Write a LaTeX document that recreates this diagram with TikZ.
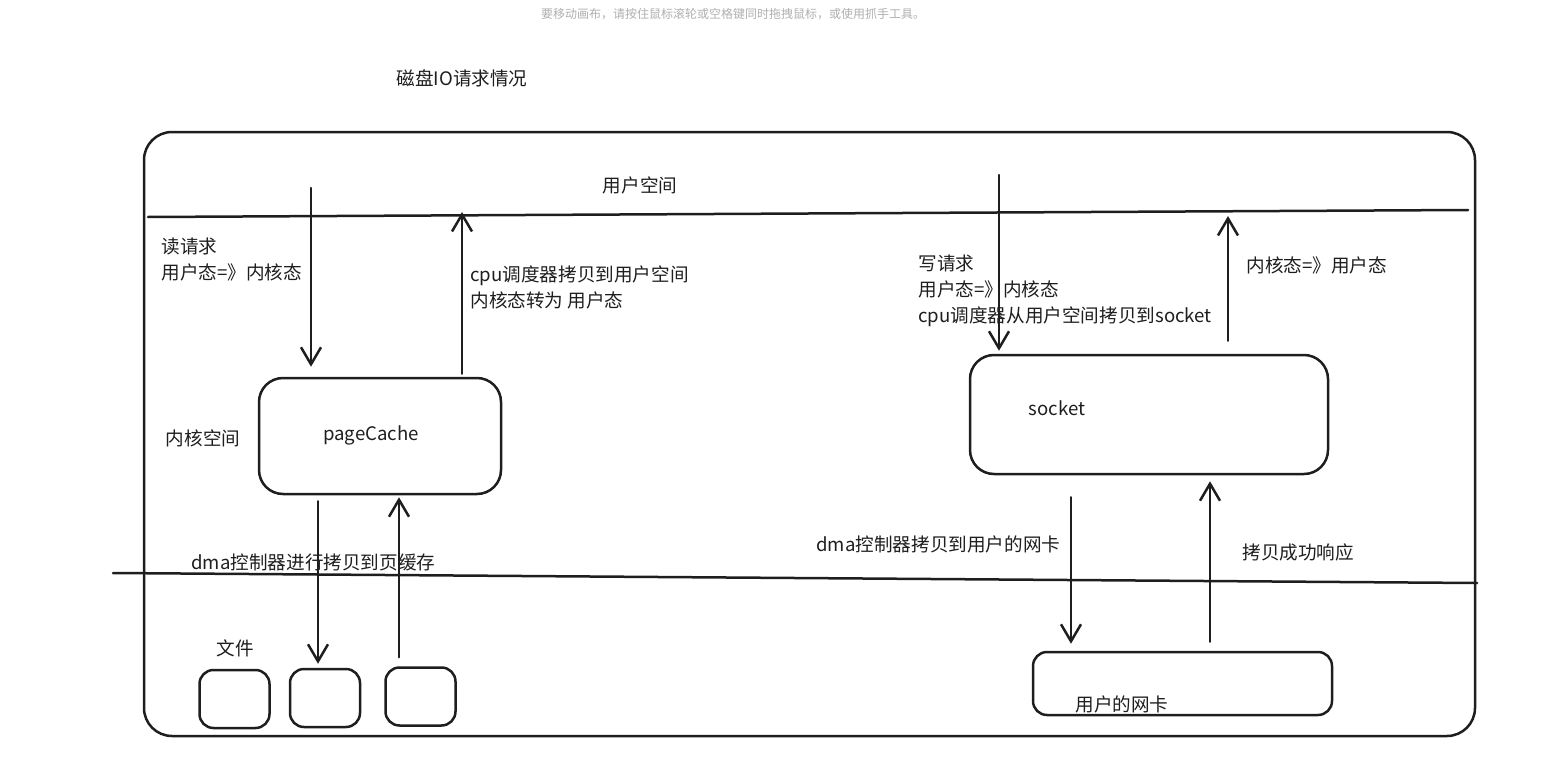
\documentclass[tikz,border=0pt]{standalone}
\usepackage{fontspec}
\setmainfont{Noto Sans CJK SC}
\usetikzlibrary{arrows.meta}
\definecolor{ink}{RGB}{30,30,30}
\definecolor{hintgray}{RGB}{175,175,175}
\tikzset{
  sketch/.style={draw=ink, line width=1.25pt, line cap=round, line join=round},
  box/.style={sketch, rounded corners=12pt, inner sep=0pt},
  smallbox/.style={sketch, rounded corners=7pt, inner sep=0pt, minimum width=35pt, minimum height=29pt},
  flow/.style={sketch, -{Straight Barb[length=8.5pt,width=10pt,line width=1.25pt]}},
  lbl/.style={text=ink, inner sep=0pt, align=left, font=\fontsize{9.3}{13}\selectfont},
}
\begin{document}
\begin{tikzpicture}[x=0.5pt, y=-0.5pt]
  \useasboundingbox (0,0) rectangle (1560,771);
  \node[text=hintgray, inner sep=0pt, font=\fontsize{6.0}{8}\selectfont] (hint) at (733,14)
    {要移动画布，请按住鼠标滚轮或空格键同时拖拽鼠标，或使用抓手工具。};
  \node[lbl] (title) at (462,78) {磁盘IO请求情况};
  % outer frame and the two boundaries
  \node[box, rounded corners=14pt, minimum width=665.5pt, minimum height=302pt] (frame) at (809.5,434) {};
  \coordinate (ul-l) at (148,217);
  \coordinate (ul-r) at (1468,210);
  \coordinate (kl-l) at (113,573);
  \coordinate (kl-r) at (1477,583);
  \draw[sketch] (ul-l) -- (ul-r);
  \draw[sketch] (kl-l) -- (kl-r);
  \node[lbl] (userspace) at (640,185) {用户空间};
  \node[lbl] (kernelspace) at (203,438) {内核空间};
  % read side
  \node[box, minimum width=121pt, minimum height=58pt] (pc) at (380,436) {};
  \node[lbl] (pctxt) at (371,435) {pageCache};
  \node[smallbox] (f1) at (234.5,699) {};
  \node[smallbox] (f2) at (325,698) {};
  \node[smallbox] (f3) at (420.5,696.5) {};
  \node[lbl] (files) at (235,648) {文件};
  \coordinate (rdtop) at (311,188);
  \coordinate (cpup) at (462,212);
  \coordinate (dmadn) at (318,600);
  \coordinate (dmaup) at (399,600);
  \draw[flow, shorten >=5pt] (rdtop) -- (rdtop |- pc.north);
  \draw[flow, shorten <=1.5pt] (cpup |- pc.north) -- (cpup);
  \draw[flow, shorten <=3pt, shorten >=2pt] (dmadn |- pc.south) -- (dmadn |- f2.north);
  \draw[flow, shorten <=4.5pt, shorten >=1pt] (dmaup |- f3.north) -- (dmaup |- pc.south);
  \node[lbl, anchor=west] (rdtxt) at (161,259) {读请求\\用户态=》内核态};
  \node[lbl, anchor=west] (cptxt) at (470,287) {cpu调度器拷贝到用户空间\\内核态转为 用户态};
  \node[lbl, anchor=west] (dmatxt) at (191,562) {dma控制器进行拷贝到页缓存};
  % write side
  \node[box, minimum width=179pt, minimum height=59.5pt] (sk) at (1149,414.5) {};
  \node[lbl] (sktxt) at (1057,408) {socket};
  \node[box, rounded corners=7pt, minimum width=149.5pt, minimum height=31.5pt] (nic) at (1182.5,683.5) {};
  \node[lbl] (nictxt) at (1122,704) {用户的网卡};
  \coordinate (wrtop) at (999,175);
  \coordinate (skup) at (1228,216);
  \coordinate (nicdn) at (1071,570);
  \coordinate (nicup) at (1210,570);
  \draw[flow, shorten >=1.5pt] (wrtop) -- (wrtop |- sk.north);
  \draw[flow, shorten <=6.5pt] (skup |- sk.north) -- (skup);
  \draw[flow, shorten <=11pt, shorten >=3.5pt] (nicdn |- sk.south) -- (nicdn |- nic.north);
  \draw[flow, shorten <=4.5pt, shorten >=3pt] (nicup |- nic.north) -- (nicup |- sk.south);
  \node[lbl, anchor=west] (wrtxt) at (918,291) {写请求\\用户态=》内核态\\cpu调度器从用户空间拷贝到socket};
  \node[lbl, anchor=west] (k2u) at (1246,265) {内核态=》用户态};
  \node[lbl, anchor=west] (nicdntxt) at (816,544) {dma控制器拷贝到用户的网卡};
  \node[lbl, anchor=west] (oktxt) at (1242,552) {拷贝成功响应};
\end{tikzpicture}
\end{document}
